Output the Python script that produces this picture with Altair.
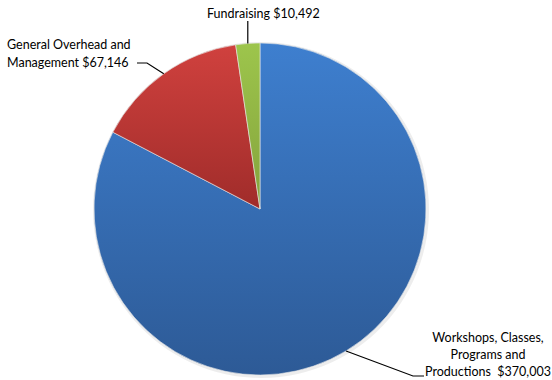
import math
import altair as alt
import pandas as pd

# Expense categories (clockwise from 12 o'clock) and amounts in dollars
categories = [
    "Workshops, Classes, Programs and Productions",
    "General Overhead and Management",
    "Fundraising",
]
amounts = [370003, 67146, 10492]
label_lines = [
    ["Workshops, Classes,", "Programs and", "Productions\u00a0 $370,003"],
    ["General Overhead and", "Management $67,146"],
    ["Fundraising $10,492"],
]
# top / bottom colours of each slice's vertical gradient
grad_top = ["#3e7fcf", "#d0413e", "#9dc54c"]
grad_bottom = ["#2d5a96", "#a02c2a", "#84a33c"]

W, H = 552, 380
CX, CY, R = 260, 209, 166

total = sum(amounts)
starts, ends = [], []
acc = 0.0
for a in amounts:
    starts.append(acc / total * 2 * math.pi)
    acc += a
    ends.append(acc / total * 2 * math.pi)

df = pd.DataFrame({"cat": categories, "amount": amounts, "a0": starts, "a1": ends})

base = alt.Chart(df)

# soft shadow behind the pie
shadow = base.mark_arc(radius=R + 2, color="#000000", opacity=0.07).encode(
    theta=alt.Theta("amount:Q", stack=True),
    x=alt.value(CX + 1),
    y=alt.value(CY + 1),
)

slices = []
for cat, top, bottom in zip(categories, grad_top, grad_bottom):
    grad = alt.Gradient(
        gradient="linear",
        stops=[alt.GradientStop(color=top, offset=0), alt.GradientStop(color=bottom, offset=1)],
        x1=0, x2=0, y1=0, y2=1,
    )
    slices.append(
        base.transform_filter(alt.datum.cat == cat)
        .mark_arc(radius=R, fill=grad, stroke="#e8e8e8", strokeWidth=0.6)
        .encode(
            theta=alt.Theta("a0:Q", scale=None),
            theta2="a1:Q",
            x=alt.value(CX),
            y=alt.value(CY),
        )
    )

# leader lines: from the slice mid-angle on the rim to the label
def rim(i):
    m = (starts[i] + ends[i]) / 2
    return CX + R * math.sin(m), CY - R * math.cos(m)

leader_rows = []
# workshops
x0, y0 = rim(0)
leader_rows += [
    {"g": 0, "o": 0, "x": x0, "y": y0},
    {"g": 0, "o": 1, "x": 413, "y": 376},
    {"g": 0, "o": 2, "x": 424, "y": 376},
]
# general overhead
x0, y0 = rim(1)
leader_rows += [
    {"g": 1, "o": 0, "x": x0, "y": y0},
    {"g": 1, "o": 1, "x": 147, "y": 63},
    {"g": 1, "o": 2, "x": 137, "y": 63},
]
# fundraising
x0, y0 = rim(2)
leader_rows += [
    {"g": 2, "o": 0, "x": x0, "y": y0},
    {"g": 2, "o": 1, "x": x0, "y": 21},
]
leaders = alt.Chart(pd.DataFrame(leader_rows)).mark_line(
    color="#000000", strokeWidth=1.2
).encode(
    x=alt.X("x:Q", scale=None),
    y=alt.Y("y:Q", scale=None),
    detail="g:N",
    order="o:Q",
)

label_rows = []
# (x, first-line y, line step, alignment)
pos = [(488, 338, 17, "center"), (7, 45, 18, "left"), (207, 14, 18, "left")]
for i, lines in enumerate(label_lines):
    lx, ly, step, al = pos[i]
    for k, t in enumerate(lines):
        label_rows.append({"t": t, "x": lx, "y": ly + k * step, "al": al})
lab_df = pd.DataFrame(label_rows)

font = "Lato"
texts = []
for al in ["center", "left"]:
    texts.append(
        alt.Chart(lab_df[lab_df["al"] == al]).mark_text(
            font=font, fontSize=12.5, color="#000000", align=al, baseline="middle"
        ).encode(
            x=alt.X("x:Q", scale=None),
            y=alt.Y("y:Q", scale=None),
            text="t:N",
        )
    )

chart = alt.layer(shadow, *slices, leaders, *texts).properties(
    width=W, height=H, autosize=alt.AutoSizeParams(type="none"), padding=0,
    background="#ffffff",
).configure_view(stroke=None)

chart.save("out.html", embed_options={"renderer": "svg", "actions": False})
